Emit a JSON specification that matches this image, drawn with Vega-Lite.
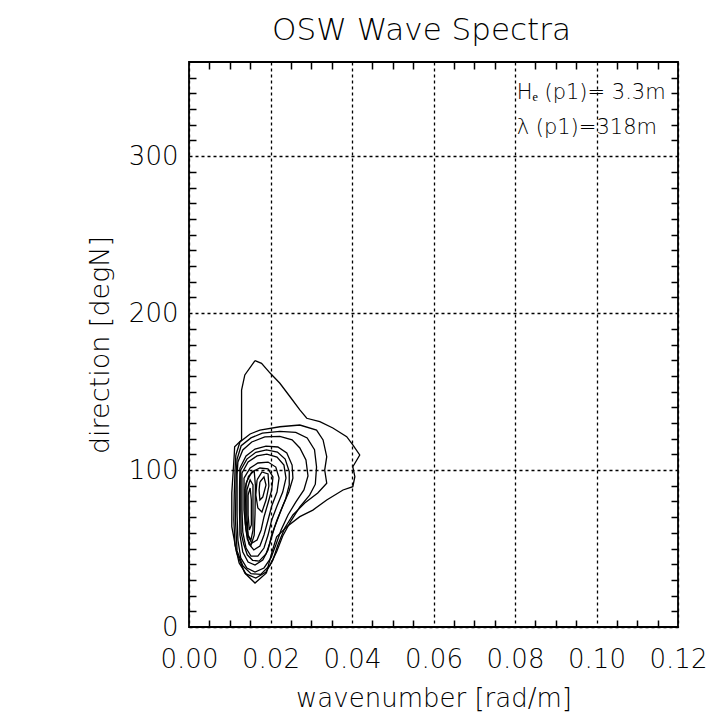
{
  "$schema": "https://vega.github.io/schema/vega-lite/v6.json",
  "width": 489,
  "height": 565,
  "autosize": {"type": "none"},
  "padding": {"left": 189, "top": 62, "right": 50, "bottom": 101},
  "background": "white",
  "title": {"text": "OSW Wave Spectra", "font": "DejaVu Sans", "fontSize": 31, "fontWeight": 200, "color": "black", "anchor": "middle", "dx": -12, "offset": 14},
  "config": {"view": {"stroke": "black", "strokeWidth": 1.8}},
  "data": {"values": [
    {"c":1,"i":1,"k":0.0162,"d":169.7},{"c":1,"i":2,"k":0.0178,"d":168.0},{"c":1,"i":3,"k":0.0199,"d":161.8},{"c":1,"i":4,"k":0.0223,"d":155.3},{"c":1,"i":5,"k":0.0248,"d":146.7},{"c":1,"i":6,"k":0.0272,"d":138.3},{"c":1,"i":7,"k":0.0289,"d":133.0},{"c":1,"i":8,"k":0.0321,"d":130.8},{"c":1,"i":9,"k":0.0353,"d":126.8},{"c":1,"i":10,"k":0.0387,"d":121.3},{"c":1,"i":11,"k":0.0402,"d":116.0},{"c":1,"i":12,"k":0.0419,"d":109.6},{"c":1,"i":13,"k":0.0402,"d":102.1},{"c":1,"i":14,"k":0.0407,"d":95.8},{"c":1,"i":15,"k":0.0402,"d":89.4},{"c":1,"i":16,"k":0.0378,"d":87.3},{"c":1,"i":17,"k":0.0338,"d":80.9},{"c":1,"i":18,"k":0.0304,"d":74.5},{"c":1,"i":19,"k":0.0272,"d":70.3},{"c":1,"i":20,"k":0.0240,"d":63.9},{"c":1,"i":21,"k":0.0215,"d":57.5},{"c":1,"i":22,"k":0.0203,"d":47.2},{"c":1,"i":23,"k":0.0190,"d":34.4},{"c":1,"i":24,"k":0.0162,"d":28.0},{"c":1,"i":25,"k":0.0137,"d":34.4},{"c":1,"i":26,"k":0.0117,"d":47.2},{"c":1,"i":27,"k":0.0105,"d":63.9},{"c":1,"i":28,"k":0.0105,"d":85.4},{"c":1,"i":29,"k":0.0111,"d":109.6},{"c":1,"i":30,"k":0.0112,"d":114.9},{"c":1,"i":31,"k":0.0129,"d":119.2},{"c":1,"i":32,"k":0.0129,"d":151.0},{"c":1,"i":33,"k":0.0137,"d":160.6},{"c":1,"i":34,"k":0.0162,"d":169.7},
    {"c":2,"i":1,"k":0.0115,"d":109.6},{"c":2,"i":2,"k":0.0125,"d":117.9},{"c":2,"i":3,"k":0.0150,"d":123.0},{"c":2,"i":4,"k":0.0174,"d":125.5},{"c":2,"i":5,"k":0.0223,"d":127.6},{"c":2,"i":6,"k":0.0272,"d":128.7},{"c":2,"i":7,"k":0.0313,"d":125.5},{"c":2,"i":8,"k":0.0329,"d":119.2},{"c":2,"i":9,"k":0.0338,"d":108.5},{"c":2,"i":10,"k":0.0333,"d":100.0},{"c":2,"i":11,"k":0.0338,"d":91.6},{"c":2,"i":12,"k":0.0316,"d":85.4},{"c":2,"i":13,"k":0.0284,"d":79.0},{"c":2,"i":14,"k":0.0255,"d":71.4},{"c":2,"i":15,"k":0.0235,"d":63.1},{"c":2,"i":16,"k":0.0218,"d":52.2},{"c":2,"i":17,"k":0.0206,"d":42.7},{"c":2,"i":18,"k":0.0189,"d":35.0},{"c":2,"i":19,"k":0.0164,"d":31.2},{"c":2,"i":20,"k":0.0140,"d":33.8},{"c":2,"i":21,"k":0.0123,"d":40.8},{"c":2,"i":22,"k":0.0113,"d":52.2},{"c":2,"i":23,"k":0.0110,"d":68.2},{"c":2,"i":24,"k":0.0111,"d":84.1},{"c":2,"i":25,"k":0.0113,"d":100.0},{"c":2,"i":26,"k":0.0115,"d":109.6},
    {"c":3,"i":1,"k":0.0120,"d":105.1},{"c":3,"i":2,"k":0.0132,"d":112.8},{"c":3,"i":3,"k":0.0154,"d":117.9},{"c":3,"i":4,"k":0.0186,"d":121.1},{"c":3,"i":5,"k":0.0223,"d":121.4},{"c":3,"i":6,"k":0.0253,"d":119.2},{"c":3,"i":7,"k":0.0272,"d":114.1},{"c":3,"i":8,"k":0.0287,"d":106.4},{"c":3,"i":9,"k":0.0292,"d":96.2},{"c":3,"i":10,"k":0.0282,"d":87.3},{"c":3,"i":11,"k":0.0262,"d":79.6},{"c":3,"i":12,"k":0.0243,"d":71.4},{"c":3,"i":13,"k":0.0226,"d":61.8},{"c":3,"i":14,"k":0.0213,"d":52.2},{"c":3,"i":15,"k":0.0201,"d":44.0},{"c":3,"i":16,"k":0.0184,"d":37.6},{"c":3,"i":17,"k":0.0162,"d":35.0},{"c":3,"i":18,"k":0.0142,"d":37.6},{"c":3,"i":19,"k":0.0127,"d":44.0},{"c":3,"i":20,"k":0.0120,"d":55.4},{"c":3,"i":21,"k":0.0118,"d":71.4},{"c":3,"i":22,"k":0.0118,"d":87.3},{"c":3,"i":23,"k":0.0118,"d":96.8},{"c":3,"i":24,"k":0.0120,"d":105.1},
    {"c":4,"i":1,"k":0.0125,"d":101.3},{"c":4,"i":2,"k":0.0140,"d":109.0},{"c":4,"i":3,"k":0.0162,"d":113.4},{"c":4,"i":4,"k":0.0189,"d":115.3},{"c":4,"i":5,"k":0.0218,"d":114.7},{"c":4,"i":6,"k":0.0240,"d":110.9},{"c":4,"i":7,"k":0.0253,"d":103.2},{"c":4,"i":8,"k":0.0255,"d":94.9},{"c":4,"i":9,"k":0.0245,"d":86.0},{"c":4,"i":10,"k":0.0230,"d":77.1},{"c":4,"i":11,"k":0.0216,"d":68.2},{"c":4,"i":12,"k":0.0203,"d":58.6},{"c":4,"i":13,"k":0.0194,"d":49.1},{"c":4,"i":14,"k":0.0181,"d":42.7},{"c":4,"i":15,"k":0.0162,"d":39.5},{"c":4,"i":16,"k":0.0145,"d":41.4},{"c":4,"i":17,"k":0.0132,"d":47.8},{"c":4,"i":18,"k":0.0125,"d":58.6},{"c":4,"i":19,"k":0.0124,"d":74.5},{"c":4,"i":20,"k":0.0124,"d":88.6},{"c":4,"i":21,"k":0.0125,"d":101.3},
    {"c":5,"i":1,"k":0.0130,"d":98.1},{"c":5,"i":2,"k":0.0145,"d":105.1},{"c":5,"i":3,"k":0.0167,"d":109.0},{"c":5,"i":4,"k":0.0191,"d":110.2},{"c":5,"i":5,"k":0.0216,"d":108.3},{"c":5,"i":6,"k":0.0233,"d":103.2},{"c":5,"i":7,"k":0.0238,"d":94.9},{"c":5,"i":8,"k":0.0230,"d":86.0},{"c":5,"i":9,"k":0.0216,"d":77.1},{"c":5,"i":10,"k":0.0203,"d":68.2},{"c":5,"i":11,"k":0.0194,"d":58.6},{"c":5,"i":12,"k":0.0184,"d":50.3},{"c":5,"i":13,"k":0.0169,"d":45.2},{"c":5,"i":14,"k":0.0152,"d":45.2},{"c":5,"i":15,"k":0.0140,"d":50.3},{"c":5,"i":16,"k":0.0132,"d":60.5},{"c":5,"i":17,"k":0.0130,"d":74.5},{"c":5,"i":18,"k":0.0130,"d":87.3},{"c":5,"i":19,"k":0.0130,"d":98.1},
    {"c":6,"i":1,"k":0.0135,"d":94.9},{"c":6,"i":2,"k":0.0150,"d":101.3},{"c":6,"i":3,"k":0.0169,"d":104.5},{"c":6,"i":4,"k":0.0194,"d":105.1},{"c":6,"i":5,"k":0.0213,"d":101.9},{"c":6,"i":6,"k":0.0221,"d":94.9},{"c":6,"i":7,"k":0.0216,"d":86.0},{"c":6,"i":8,"k":0.0203,"d":77.1},{"c":6,"i":9,"k":0.0194,"d":68.2},{"c":6,"i":10,"k":0.0184,"d":58.6},{"c":6,"i":11,"k":0.0174,"d":51.6},{"c":6,"i":12,"k":0.0159,"d":49.1},{"c":6,"i":13,"k":0.0147,"d":52.9},{"c":6,"i":14,"k":0.0140,"d":61.8},{"c":6,"i":15,"k":0.0135,"d":74.5},{"c":6,"i":16,"k":0.0135,"d":86.0},{"c":6,"i":17,"k":0.0135,"d":94.9},
    {"c":7,"i":1,"k":0.0140,"d":91.8},{"c":7,"i":2,"k":0.0154,"d":98.8},{"c":7,"i":3,"k":0.0174,"d":101.3},{"c":7,"i":4,"k":0.0194,"d":100.7},{"c":7,"i":5,"k":0.0206,"d":95.6},{"c":7,"i":6,"k":0.0203,"d":87.3},{"c":7,"i":7,"k":0.0194,"d":79.0},{"c":7,"i":8,"k":0.0184,"d":70.1},{"c":7,"i":9,"k":0.0177,"d":61.8},{"c":7,"i":10,"k":0.0167,"d":55.4},{"c":7,"i":11,"k":0.0154,"d":53.5},{"c":7,"i":12,"k":0.0145,"d":58.0},{"c":7,"i":13,"k":0.0140,"d":68.2},{"c":7,"i":14,"k":0.0139,"d":80.9},{"c":7,"i":15,"k":0.0140,"d":91.8},
    {"c":8,"i":1,"k":0.0142,"d":87.3},{"c":8,"i":2,"k":0.0150,"d":93.7},{"c":8,"i":3,"k":0.0157,"d":90.5},{"c":8,"i":4,"k":0.0157,"d":74.5},{"c":8,"i":5,"k":0.0157,"d":61.8},{"c":8,"i":6,"k":0.0152,"d":55.4},{"c":8,"i":7,"k":0.0145,"d":58.6},{"c":8,"i":8,"k":0.0142,"d":71.4},{"c":8,"i":9,"k":0.0142,"d":87.3},
    {"c":9,"i":1,"k":0.0167,"d":93.7},{"c":9,"i":2,"k":0.0179,"d":98.8},{"c":9,"i":3,"k":0.0194,"d":97.5},{"c":9,"i":4,"k":0.0196,"d":89.8},{"c":9,"i":5,"k":0.0189,"d":80.9},{"c":9,"i":6,"k":0.0179,"d":73.3},{"c":9,"i":7,"k":0.0169,"d":75.8},{"c":9,"i":8,"k":0.0164,"d":84.1},{"c":9,"i":9,"k":0.0167,"d":93.7},
    {"c":10,"i":1,"k":0.0145,"d":84.1},{"c":10,"i":2,"k":0.0150,"d":88.6},{"c":10,"i":3,"k":0.0153,"d":80.9},{"c":10,"i":4,"k":0.0153,"d":65.0},{"c":10,"i":5,"k":0.0148,"d":61.8},{"c":10,"i":6,"k":0.0145,"d":71.4},{"c":10,"i":7,"k":0.0145,"d":84.1},
    {"c":11,"i":1,"k":0.0174,"d":92.4},{"c":11,"i":2,"k":0.0184,"d":95.6},{"c":11,"i":3,"k":0.0189,"d":90.5},{"c":11,"i":4,"k":0.0181,"d":82.8},{"c":11,"i":5,"k":0.0174,"d":80.9},{"c":11,"i":6,"k":0.0172,"d":87.3},{"c":11,"i":7,"k":0.0174,"d":92.4},
    {"c":12,"i":1,"k":0.0118,"d":107.0},{"c":12,"i":2,"k":0.0128,"d":115.5},{"c":12,"i":3,"k":0.0152,"d":120.5},{"c":12,"i":4,"k":0.0180,"d":123.5},{"c":12,"i":5,"k":0.0223,"d":124.6},{"c":12,"i":6,"k":0.0262,"d":124.0},{"c":12,"i":7,"k":0.0290,"d":120.5},{"c":12,"i":8,"k":0.0308,"d":113.0},{"c":12,"i":9,"k":0.0313,"d":102.0},{"c":12,"i":10,"k":0.0310,"d":91.0},{"c":12,"i":11,"k":0.0296,"d":84.0},{"c":12,"i":12,"k":0.0272,"d":76.5},{"c":12,"i":13,"k":0.0250,"d":67.5},{"c":12,"i":14,"k":0.0230,"d":58.0},{"c":12,"i":15,"k":0.0215,"d":48.0},{"c":12,"i":16,"k":0.0199,"d":39.5},{"c":12,"i":17,"k":0.0176,"d":33.5},{"c":12,"i":18,"k":0.0152,"d":34.0},{"c":12,"i":19,"k":0.0132,"d":39.0},{"c":12,"i":20,"k":0.0118,"d":48.5},{"c":12,"i":21,"k":0.0114,"d":68.0},{"c":12,"i":22,"k":0.0115,"d":86.0},{"c":12,"i":23,"k":0.0116,"d":98.0},{"c":12,"i":24,"k":0.0118,"d":107.0},
    {"c":13,"i":1,"k":0.0127,"d":100.0},{"c":13,"i":2,"k":0.0142,"d":107.0},{"c":13,"i":3,"k":0.0164,"d":111.3},{"c":13,"i":4,"k":0.0190,"d":112.8},{"c":13,"i":5,"k":0.0217,"d":111.5},{"c":13,"i":6,"k":0.0236,"d":107.0},{"c":13,"i":7,"k":0.0246,"d":99.0},{"c":13,"i":8,"k":0.0246,"d":90.5},{"c":13,"i":9,"k":0.0237,"d":81.5},{"c":13,"i":10,"k":0.0223,"d":72.5},{"c":13,"i":11,"k":0.0210,"d":63.5},{"c":13,"i":12,"k":0.0199,"d":54.0},{"c":13,"i":13,"k":0.0189,"d":46.5},{"c":13,"i":14,"k":0.0172,"d":42.0},{"c":13,"i":15,"k":0.0156,"d":42.5},{"c":13,"i":16,"k":0.0143,"d":46.0},{"c":13,"i":17,"k":0.0134,"d":53.0},{"c":13,"i":18,"k":0.0128,"d":60.0},{"c":13,"i":19,"k":0.0127,"d":74.5},{"c":13,"i":20,"k":0.0127,"d":88.0},{"c":13,"i":21,"k":0.0127,"d":100.0},
    {"c":14,"i":1,"k":0.0137,"d":88.0},{"c":14,"i":2,"k":0.0146,"d":96.0},{"c":14,"i":3,"k":0.0160,"d":99.5},{"c":14,"i":4,"k":0.0163,"d":90.0},{"c":14,"i":5,"k":0.0162,"d":72.0},{"c":14,"i":6,"k":0.0160,"d":58.5},{"c":14,"i":7,"k":0.0152,"d":52.0},{"c":14,"i":8,"k":0.0143,"d":56.0},{"c":14,"i":9,"k":0.0138,"d":66.0},{"c":14,"i":10,"k":0.0137,"d":78.0},{"c":14,"i":11,"k":0.0137,"d":88.0}
  ]},
  "layer": [
    {
      "mark": {"type": "line", "color": "black", "strokeWidth": 1.3},
      "encoding": {
        "x": {"field": "k", "type": "quantitative", "scale": {"domain": [0, 0.12], "nice": false, "zero": false},
          "axis": {"orient": "bottom", "values": [0, 0.02, 0.04, 0.06, 0.08, 0.1, 0.12], "format": ".2f", "ticks": false, "tickSize": 0, "domain": false,
            "grid": true, "gridColor": "black", "gridDash": [3, 3], "gridOpacity": 1, "gridWidth": 1.3,
            "labelFont": "DejaVu Sans", "labelFontSize": 26, "labelFontWeight": 200, "labelColor": "black", "labelPadding": 19, "labelFlush": false, "labelOverlap": false,
            "title": "wavenumber [rad/m]", "titleFont": "DejaVu Sans", "titleFontSize": 26, "titleFontWeight": 200, "titleColor": "black", "titlePadding": 13}},
        "y": {"field": "d", "type": "quantitative", "scale": {"domain": [0, 360], "nice": false, "zero": false},
          "axis": {"orient": "left", "values": [0, 100, 200, 300], "format": "d", "ticks": false, "tickSize": 0, "domain": false,
            "grid": true, "gridColor": "black", "gridDash": [3, 3], "gridOpacity": 1, "gridWidth": 1.3,
            "labelFont": "DejaVu Sans", "labelFontSize": 26, "labelFontWeight": 200, "labelColor": "black", "labelPadding": 11, "labelFlush": false, "labelOverlap": false,
            "title": "direction [degN]", "titleFont": "DejaVu Sans", "titleFontSize": 27, "titleFontWeight": 200, "titleColor": "black", "titlePadding": 14}},
        "detail": {"field": "c", "type": "nominal"},
        "order": {"field": "i", "type": "quantitative"}
      }
    },
    {
      "mark": {"type": "point", "opacity": 0},
      "encoding": {
        "x": {"field": "k", "type": "quantitative", "scale": {"domain": [0, 0.12], "nice": false, "zero": false},
          "axis": {"orient": "bottom", "values": [0.005, 0.01, 0.015, 0.025, 0.03, 0.035, 0.045, 0.05, 0.055, 0.065, 0.07, 0.075, 0.085, 0.09, 0.095, 0.105, 0.11, 0.115],
            "labels": false, "grid": false, "domain": false, "ticks": true, "tickSize": -7, "tickColor": "black", "tickWidth": 1.5, "title": null}},
        "y": {"field": "d", "type": "quantitative", "scale": {"domain": [0, 360], "nice": false, "zero": false},
          "axis": {"orient": "left", "values": [10, 20, 30, 40, 50, 60, 70, 80, 90, 110, 120, 130, 140, 150, 160, 170, 180, 190, 210, 220, 230, 240, 250, 260, 270, 280, 290, 310, 320, 330, 340, 350],
            "labels": false, "grid": false, "domain": false, "ticks": true, "tickSize": -7, "tickColor": "black", "tickWidth": 1.5, "title": null}}
      }
    },
    {
      "mark": {"type": "point", "opacity": 0},
      "encoding": {
        "x": {"field": "k", "type": "quantitative", "scale": {"domain": [0, 0.12], "nice": false, "zero": false},
          "axis": {"orient": "top", "values": [0.005, 0.01, 0.015, 0.025, 0.03, 0.035, 0.045, 0.05, 0.055, 0.065, 0.07, 0.075, 0.085, 0.09, 0.095, 0.105, 0.11, 0.115],
            "labels": false, "grid": false, "domain": false, "ticks": true, "tickSize": -7, "tickColor": "black", "tickWidth": 1.5, "title": null}},
        "y": {"field": "d", "type": "quantitative", "scale": {"domain": [0, 360], "nice": false, "zero": false},
          "axis": {"orient": "right", "values": [10, 20, 30, 40, 50, 60, 70, 80, 90, 110, 120, 130, 140, 150, 160, 170, 180, 190, 210, 220, 230, 240, 250, 260, 270, 280, 290, 310, 320, 330, 340, 350],
            "labels": false, "grid": false, "domain": false, "ticks": true, "tickSize": -7, "tickColor": "black", "tickWidth": 1.5, "title": null}}
      }
    },
    {
      "data": {"values": [
        {"k": 0.0804, "d": 340, "t": "Hₑ (p1)= 3.3m"},
        {"k": 0.0804, "d": 318, "t": "λ (p1)=318m"}
      ]},
      "mark": {"type": "text", "font": "DejaVu Sans", "fontSize": 21, "fontWeight": 200, "align": "left", "baseline": "middle", "color": "black"},
      "encoding": {
        "x": {"field": "k", "type": "quantitative", "scale": {"domain": [0, 0.12], "nice": false, "zero": false}, "axis": null},
        "y": {"field": "d", "type": "quantitative", "scale": {"domain": [0, 360], "nice": false, "zero": false}, "axis": null},
        "text": {"field": "t", "type": "nominal"}
      }
    }
  ],
  "resolve": {"axis": {"x": "independent", "y": "independent"}}
}
